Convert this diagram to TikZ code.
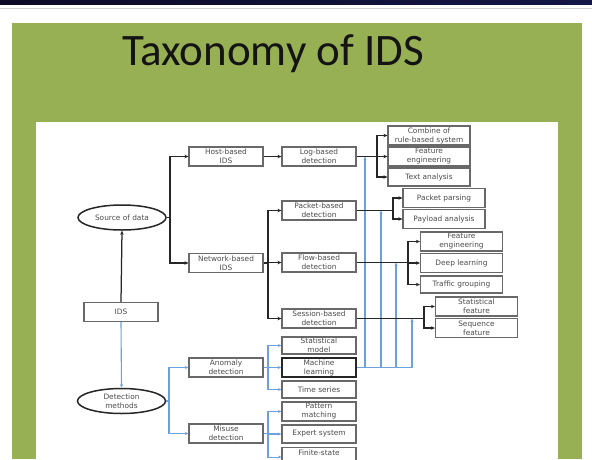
\documentclass[tikz,border=0pt]{standalone}
\usepackage{fontspec}
\setmainfont{Carlito}
\newfontfamily\boxfont{DejaVu Sans}
\usetikzlibrary{shapes.geometric,arrows.meta}
\definecolor{SlideGreen}{RGB}{152,176,84}
\definecolor{TopNavy}{RGB}{12,10,38}
\definecolor{TopNavyR}{RGB}{20,22,70}
\definecolor{LinkBlue}{RGB}{110,160,220}
\definecolor{BoxGray}{RGB}{105,105,105}
\tikzset{
  catbox/.style={draw=BoxGray, line width=1.1pt, fill=white, minimum width=74pt, minimum height=19pt,
    inner sep=0pt, align=center, font=\boxfont\fontsize{7.4}{9}\selectfont, text=black!70},
  leafbox/.style={catbox, minimum width=82pt},
  rootoval/.style={ellipse, draw=black!85, line width=1.5pt, fill=white, minimum width=88pt,
    minimum height=25pt, inner sep=0pt, align=center, font=\boxfont\fontsize{7.4}{9}\selectfont, text=black!70},
  blk/.style={-{Stealth[length=4pt,width=3.5pt]}, line width=1.25pt, black!85},
  blu/.style={-{Stealth[length=3.5pt,width=3pt]}, line width=1.1pt, LinkBlue},
  bluline/.style={line width=1.1pt, LinkBlue},
  blkline/.style={line width=1.25pt, black!85},
}
\begin{document}
\begin{tikzpicture}[x=1pt, y=-1pt]
  \useasboundingbox (0,0) rectangle (592,459);
  \clip (0,0) rectangle (592,459);
  \fill[white] (0,0) rectangle (592,459);
  \shade[left color=TopNavy, right color=TopNavyR] (0,0) rectangle (592,4.5);
  \draw[gray!35, line width=0.8pt] (0,8) -- (592,8);
  \fill[SlideGreen] (12,23) rectangle (582,459);
  \fill[white] (36,122) rectangle (558,459);
  \node[font=\fontsize{45}{45}\selectfont, text=black!92, anchor=base] (title) at (273,65) {Taxonomy of IDS};

  \node[rootoval] (src) at (122,217.5) {Source of data};
  \node[catbox] (ids) at (121,312) {IDS};
  \node[rootoval] (det) at (121.5,401) {Detection\\methods};

  \node[catbox] (host) at (226,156.5) {Host-based\\IDS};
  \node[catbox] (net) at (226,263) {Network-based\\IDS};
  \node[catbox] (log) at (319,156.5) {Log-based\\detection};
  \node[catbox] (pkt) at (319,210.5) {Packet-based\\detection};
  \node[catbox] (flow) at (319,262.5) {Flow-based\\detection};
  \node[catbox] (sess) at (319,318.5) {Session-based\\detection};

  \node[leafbox] (comb) at (429,135.5) {Combine of\\rule-based system};
  \node[leafbox] (feat1) at (429,156.5) {Feature\\engineering};
  \node[leafbox, minimum height=18pt] (text) at (429,177) {Text analysis};
  \node[leafbox] (pars) at (444,198) {Packet parsing};
  \node[leafbox] (payl) at (444,219) {Payload analysis};
  \node[leafbox] (feat2) at (461.5,241.5) {Feature\\engineering};
  \node[leafbox] (deep) at (461.5,263) {Deep learning};
  \node[leafbox, minimum height=17pt] (traf) at (461.5,284.5) {Traffic grouping};
  \node[leafbox] (stat) at (476.5,306.5) {Statistical\\feature};
  \node[leafbox] (seq) at (476.5,328) {Sequence\\feature};

  \node[catbox] (anom) at (226,367.5) {Anomaly\\detection};
  \node[catbox] (mis) at (226,433.5) {Misuse\\detection};
  \node[catbox, minimum height=17pt] (smod) at (319,345.5) {Statistical\\model};
  \node[catbox, draw=black!85, line width=1.6pt] (ml) at (319,367.5) {Machine\\learning};
  \node[catbox, minimum height=17pt] (tser) at (319,389.5) {Time series};
  \node[catbox] (patt) at (319,411.5) {Pattern\\matching};
  \node[catbox, minimum height=18pt] (expt) at (319,434) {Expert system};
  \node[catbox, anchor=north, text height=6pt, text depth=9pt] (fsm) at (319,447) {Finite-state};

  \coordinate (mlA) at (365,367.5);
  \coordinate (mlB) at (381,367.5);
  \coordinate (mlC) at (396,367.5);
  \coordinate (mlD) at (412,367.5);
  \draw[bluline] (ml.east) -- (mlD);
  \draw[blu] (mlA) -- (mlA |- log.east);
  \draw[blu] (mlB) -- (mlB |- pkt.east);
  \draw[blu] (mlC) -- (mlC |- flow.east);
  \draw[blu] (mlD) -- (mlD |- sess.east);

  \coordinate (srcfork) at (170,217.5);
  \coordinate (netfork) at (268,263);
  \coordinate (logfork) at (377,156.5);
  \coordinate (pktfork) at (393,210.5);
  \coordinate (flowfork) at (408,262.5);
  \coordinate (sessfork) at (424,318.5);
  \coordinate (detfork) at (169,401);
  \coordinate (anomfork) at (268,367.5);
  \coordinate (misfork) at (268,433.5);

  \draw[blk] (ids.north) -- (src.south);
  \draw[blkline] (src.east) -- (srcfork);
  \draw[blk] (srcfork) |- (host.west);
  \draw[blk] (srcfork) |- (net.west);
  \draw[blk] (host) -- (log);
  \draw[blkline] (net.east) -- (netfork);
  \draw[blk] (netfork) |- (pkt.west);
  \draw[blk] (netfork) |- (flow.west);
  \draw[blk] (netfork) |- (sess.west);
  \draw[blkline] (log.east) -- (logfork);
  \draw[blk] (logfork) |- (comb.west);
  \draw[blk] (logfork) |- (feat1.west);
  \draw[blk] (logfork) |- (text.west);
  \draw[blkline] (pkt.east) -- (pktfork);
  \draw[blk] (pktfork) |- (pars.west);
  \draw[blk] (pktfork) |- (payl.west);
  \draw[blkline] (flow.east) -- (flowfork);
  \draw[blk] (flowfork) |- (feat2.west);
  \draw[blk] (flowfork) |- (deep.west);
  \draw[blk] (flowfork) |- (traf.west);
  \draw[blkline] (sess.east) -- (sessfork);
  \draw[blk] (sessfork) |- (stat.west);
  \draw[blk] (sessfork) |- (seq.west);

  \draw[blu] (ids.south) -- (det.north);
  \draw[bluline] (det.east) -- (detfork);
  \draw[blu] (detfork) |- (anom.west);
  \draw[blu] (detfork) |- (mis.west);
  \draw[bluline] (anom.east) -- (anomfork);
  \draw[blu] (anomfork) |- (smod.west);
  \draw[blu] (anomfork) |- (ml.west);
  \draw[blu] (anomfork) |- (tser.west);
  \draw[bluline] (mis.east) -- (misfork);
  \draw[blu] (misfork) |- (patt.west);
  \draw[blu] (misfork) |- (expt.west);
  \draw[blu] (misfork) |- (fsm.west);
\end{tikzpicture}
\end{document}
